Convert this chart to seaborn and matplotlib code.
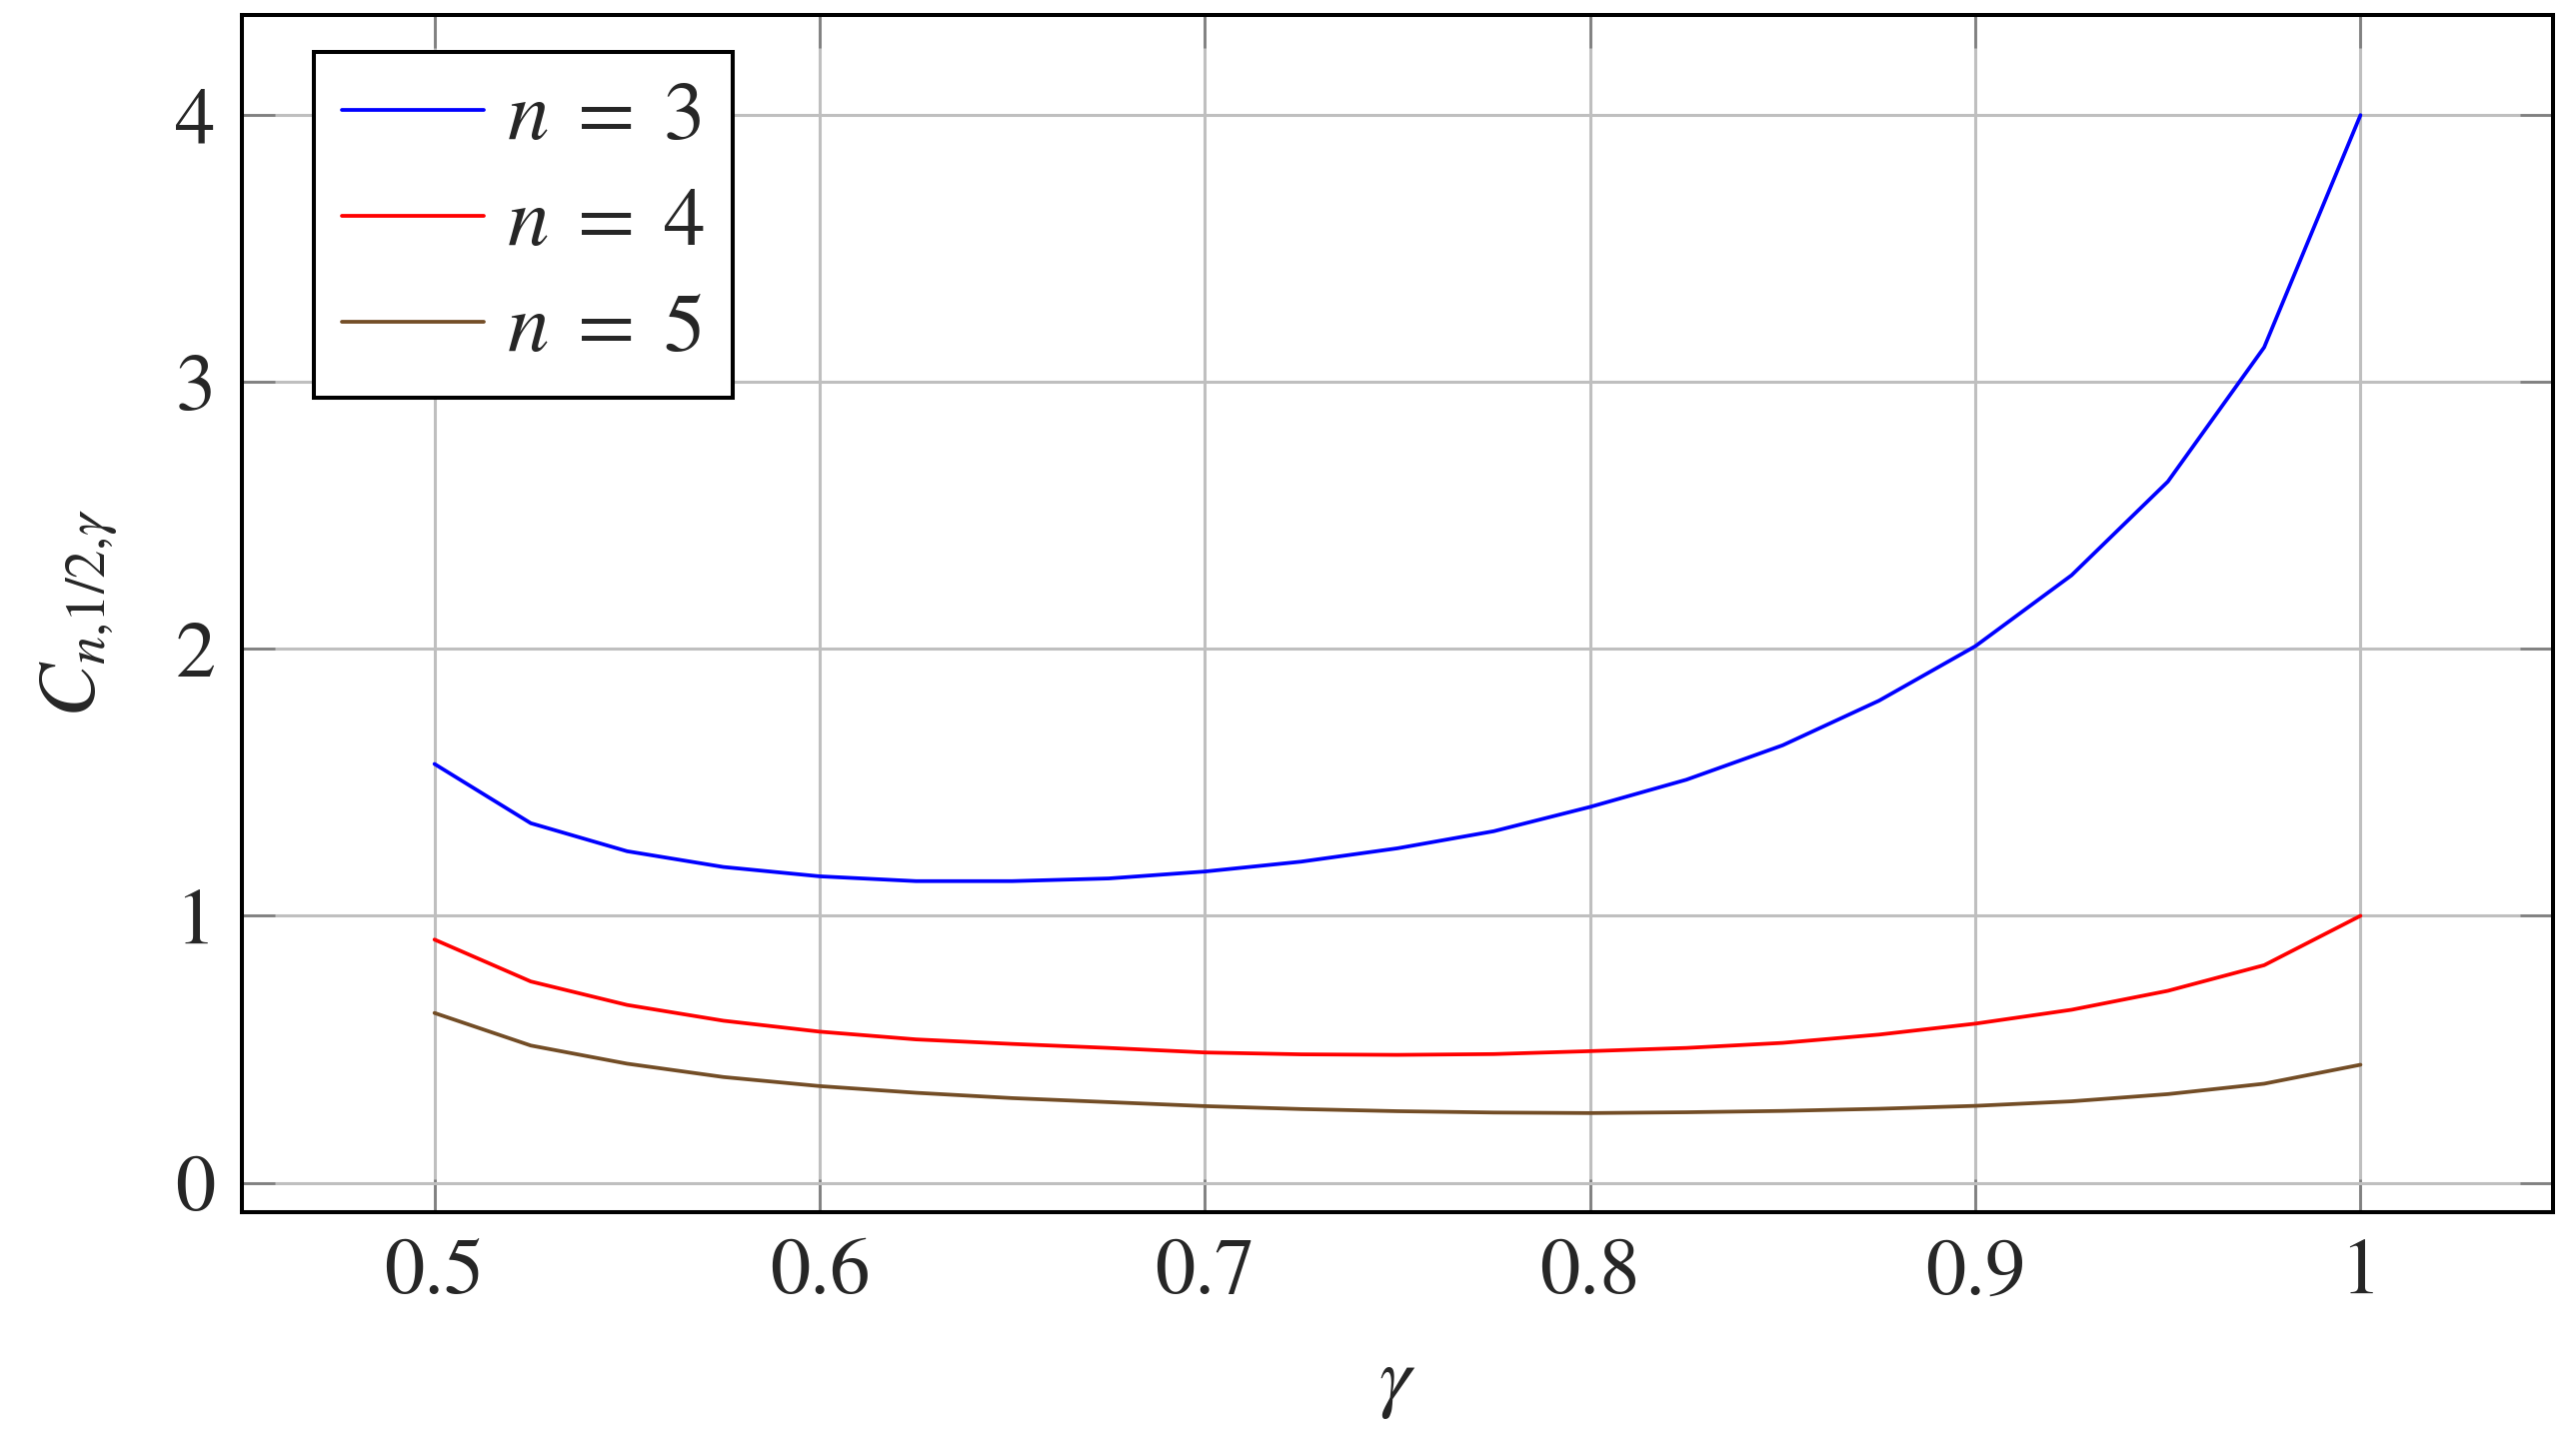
import matplotlib
matplotlib.use("Agg")
import matplotlib.pyplot as plt
import seaborn as sns
import pandas as pd

gamma = [0.5, 0.525, 0.55, 0.575, 0.6, 0.625, 0.65, 0.675, 0.7, 0.725, 0.75,
         0.775, 0.8, 0.825, 0.85, 0.875, 0.9, 0.925, 0.95, 0.975, 1.0]
c_n3 = [1.569, 1.347, 1.242, 1.183, 1.148, 1.130, 1.130, 1.140, 1.166, 1.203, 1.253,
        1.317, 1.408, 1.510, 1.639, 1.806, 2.010, 2.276, 2.627, 3.130, 4.0]
c_n4 = [0.911, 0.754, 0.666, 0.607, 0.566, 0.537, 0.520, 0.505, 0.488, 0.481, 0.479,
        0.482, 0.493, 0.505, 0.524, 0.555, 0.596, 0.648, 0.719, 0.815, 1.0]
c_n5 = [0.636, 0.514, 0.446, 0.396, 0.362, 0.337, 0.317, 0.302, 0.287, 0.276, 0.268,
        0.263, 0.261, 0.264, 0.269, 0.277, 0.288, 0.305, 0.332, 0.371, 0.442]
series_labels = [r"$n\;=\;3$", r"$n\;=\;4$", r"$n\;=\;5$"]
series_colors = ["#0000ff", "#ff0000", "#734d26"]
x_ticks = [0.5, 0.6, 0.7, 0.8, 0.9, 1.0]
x_ticklabels = ["0.5", "0.6", "0.7", "0.8", "0.9", "1"]
y_ticks = [0, 1, 2, 3, 4]
y_ticklabels = ["0", "1", "2", "3", "4"]

sns.set_style("ticks")
plt.rcParams["font.family"] = ["STIXGeneral", "DejaVu Serif"]
plt.rcParams["mathtext.fontset"] = "stix"

df = pd.DataFrame({
    "gamma": gamma * 3,
    "C": c_n3 + c_n4 + c_n5,
    "series": [series_labels[0]] * len(gamma) + [series_labels[1]] * len(gamma)
              + [series_labels[2]] * len(gamma),
})

fig = plt.figure(figsize=(25.77, 14.45), dpi=100)
ax = fig.add_axes([0.0939, 0.1606, 0.9911 - 0.0939, 0.9896 - 0.1606])

sns.lineplot(data=df, x="gamma", y="C", hue="series", hue_order=series_labels,
             palette=dict(zip(series_labels, series_colors)), linewidth=2.7,
             ax=ax, legend=True)

ax.set_xlim(0.45, 1.05)
ax.set_ylim(-0.11, 4.375)
ax.set_xticks(x_ticks)
ax.set_xticklabels(x_ticklabels)
ax.set_yticks(y_ticks)
ax.set_yticklabels(y_ticklabels)

ax.grid(True, color="#bfbfbf", linewidth=2.2)
ax.set_axisbelow(True)
ax.tick_params(direction="in", top=True, right=True, length=24, width=2,
               color="#808080", labelsize=58, pad=19)
for sp in ax.spines.values():
    sp.set_linewidth(2.9)
    sp.set_color("black")
    sp.set_zorder(5)

ax.set_xlabel(r"$\gamma$", fontsize=58, labelpad=28)
ax.set_ylabel(r"$C_{n{,}1/2{,}\gamma}$", fontsize=58, labelpad=40)

handles, labels = ax.get_legend_handles_labels()
leg = ax.legend(handles, labels, loc="upper left", bbox_to_anchor=(0.0311, 0.969),
                borderaxespad=0, fancybox=False, edgecolor="black", framealpha=1,
                fontsize=60, handlelength=1.7, handletextpad=0.28, borderpad=0.34,
                labelspacing=0.36)
leg.get_frame().set_linewidth(2.9)
for line in leg.get_lines():
    line.set_linewidth(2.7)

fig.savefig("out.png", dpi=100)
